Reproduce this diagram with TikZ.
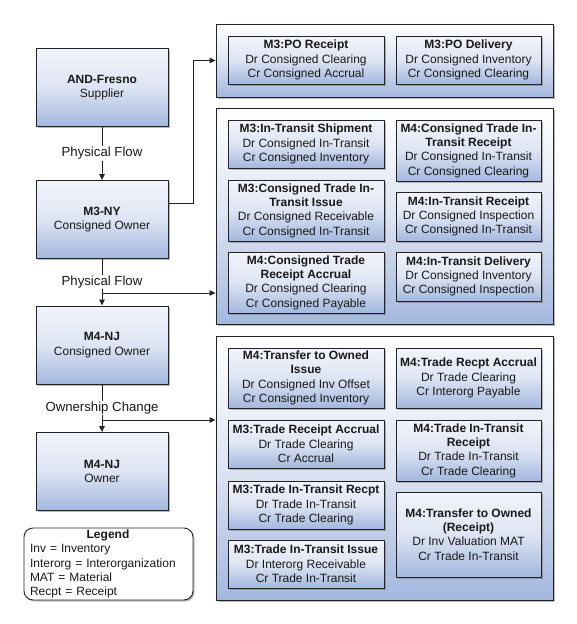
\documentclass[tikz,border=0pt]{standalone}
\usepackage{fontspec}
\setmainfont{Liberation Sans}
\usetikzlibrary{shadows,arrows.meta,calc}
\definecolor{btop}{RGB}{242,244,251}
\definecolor{bmid}{RGB}{221,228,243}
\definecolor{bbot}{RGB}{163,183,222}
\definecolor{edge}{RGB}{35,35,35}
\definecolor{txt}{RGB}{25,25,25}
\begin{document}
\begin{tikzpicture}[x=1pt,y=-1pt,
  font=\fontsize{12}{14.3}\selectfont,
  text=txt,
  shadowed/.style={drop shadow={shadow xshift=1.5pt,shadow yshift=-1.5pt,fill=black!60,opacity=0.45}},
  bluebox/.style={draw=edge,line width=0.9pt,top color=btop,bottom color=bbot,middle color=bmid,shadowed,align=center,inner sep=2pt},
  grp/.style={draw=edge,line width=0.9pt,top color=white,bottom color=bbot,middle color=bmid,shadowed,minimum width=337pt},
  orgbox/.style={bluebox,minimum width=132pt,minimum height=78pt},
  lbox/.style={bluebox,minimum width=156pt},
  rbox/.style={bluebox,minimum width=145pt},
  flow/.style={draw=edge,line width=0.9pt,-{Triangle[length=6pt,width=5.5pt]}},
  lbl/.style={fill=white,inner sep=1pt,font=\fontsize{13.2}{15}\selectfont},
  legendbox/.style={draw=edge,line width=0.9pt,fill=white,rounded corners=9pt,shadowed,minimum width=169pt,minimum height=72pt,text width=157pt,align=left,inner xsep=6pt,inner ysep=0pt}
]
\useasboundingbox (0,0) rectangle (576,624);

% organization boxes
\node[orgbox] (fresno) at (102,87.5) {\textbf{AND-Fresno}\\Supplier};
\node[orgbox] (m3ny) at (102,219.5) {\textbf{M3-NY}\\Consigned Owner};
\node[orgbox] (m4c) at (102,345) {\textbf{M4-NJ}\\Consigned Owner};
\node[orgbox] (m4o) at (102,471.5) {\textbf{M4-NJ}\\Owner};

% groups
\node[grp,minimum height=73pt] (g1) at (384.5,60.5) {};
\node[grp,minimum height=216pt] (g2) at (384.5,216) {};
\node[grp,minimum height=264pt] (g3) at (384.5,468) {};

% group 1
\node[lbox,minimum height=48pt] (a1) at (306,60) {\textbf{M3:PO Receipt}\\Dr Consigned Clearing\\Cr Consigned Accrual};
\node[rbox,minimum height=48pt] (a2) at (468.5,60) {\textbf{M3:PO Delivery}\\Dr Consigned Inventory\\Cr Consigned Clearing};

% group 2
\node[lbox,minimum height=48pt] (b1) at (306,144) {\textbf{M3:In-Transit Shipment}\\Dr Consigned In-Transit\\Cr Consigned Inventory};
\node[lbox,minimum height=61pt] (b2) at (306,210.5) {\textbf{M3:Consigned Trade In-}\\\textbf{Transit Issue}\\Dr Consigned Receivable\\Cr Consigned In-Transit};
\node[lbox,minimum height=61pt] (b3) at (306,282.5) {\textbf{M4:Consigned Trade}\\\textbf{Receipt Accrual}\\Dr Consigned Clearing\\Cr Consigned Payable};
\node[rbox,minimum height=61pt] (c1) at (468.5,150.5) {\textbf{M4:Consigned Trade In-}\\\textbf{Transit Receipt}\\Dr Consigned In-Transit\\Cr Consigned Clearing};
\node[rbox,minimum height=49pt] (c2) at (468.5,216.5) {\textbf{M4:In-Transit Receipt}\\Dr Consigned Inspection\\Cr Consigned In-Transit};
\node[rbox,minimum height=49pt] (c3) at (468.5,276.5) {\textbf{M4:In-Transit Delivery}\\Dr Consigned Inventory\\Cr Consigned Inspection};

% group 3
\node[lbox,minimum height=60pt] (d1) at (306,378) {\textbf{M4:Transfer to Owned}\\\textbf{Issue}\\Dr Consigned Inv Offset\\Cr Consigned Inventory};
\node[lbox,minimum height=48pt] (d2) at (306,444) {\textbf{M3:Trade Receipt Accrual}\\Dr Trade Clearing\\Cr Accrual};
\node[lbox,minimum height=48pt] (d3) at (306,505) {\textbf{M3:Trade In-Transit Recpt}\\Dr Trade In-Transit\\Cr Trade Clearing};
\node[lbox,minimum height=48pt] (d4) at (306,564) {\textbf{M3:Trade In-Transit Issue}\\Dr Interorg Receivable\\Cr Trade In-Transit};
\node[rbox,minimum height=60pt] (e1) at (468.5,378) {\textbf{M4:Trade Recpt Accrual}\\Dr Trade Clearing\\Cr Interorg Payable};
\node[rbox,minimum height=61pt] (e2) at (468.5,450.5) {\textbf{M4:Trade In-Transit}\\\textbf{Receipt}\\Dr Trade In-Transit\\Cr Trade Clearing};
\node[rbox,minimum height=85pt] (e3) at (468.5,534.5) {\textbf{M4:Transfer to Owned}\\\textbf{(Receipt)}\\Dr Inv Valuation MAT\\Cr Trade In-Transit};

% legend
\node[legendbox] (legend) at (108.5,564) {\makebox[156pt]{\textbf{Legend}}\\Inv = Inventory\\Interorg = Interorganization\\MAT = Material\\Recpt = Receipt};

% connectors
\draw[flow] (fresno) -- node[lbl] (pf1) {Physical Flow} (m3ny);
\coordinate (m3out) at ([yshift=16.5pt]m3ny.east);
\draw[flow] (m3out) -- ++(25,0) |- (g1.west);
\draw[flow] (m3ny) -- node[lbl] (pf2) {Physical Flow} (m4c);
\coordinate (j1) at (102,293);
\draw[flow] (j1) -- (j1 -| g2.west);
\draw[flow] (m4c) -- node[lbl] (oc) {Ownership Change} (m4o);
\coordinate (j2) at (102,420);
\draw[flow] (j2) -- (j2 -| g3.west);
\end{tikzpicture}
\end{document}
